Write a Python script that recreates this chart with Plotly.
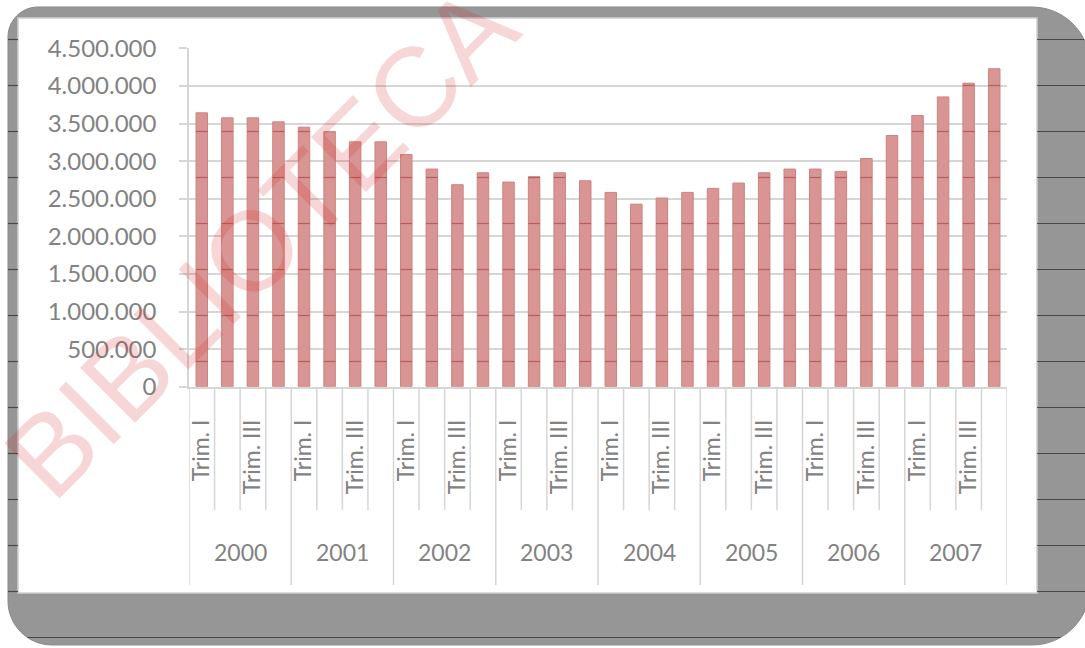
import math
import plotly.graph_objects as go

# ---- data -------------------------------------------------------------
years = ["2000", "2001", "2002", "2003", "2004", "2005", "2006", "2007"]
quarters = ["Trim. I", "Trim. II", "Trim. III", "Trim. IV"]
values = [
    3642000, 3575000, 3575000, 3522000,   # 2000
    3451000, 3393000, 3256000, 3256000,   # 2001
    3088000, 2894000, 2686000, 2845000,   # 2002
    2721000, 2792000, 2845000, 2739000,   # 2003
    2584000, 2427000, 2509000, 2584000,   # 2004
    2637000, 2708000, 2845000, 2894000,   # 2005
    2894000, 2863000, 3035000, 3340000,   # 2006
    3607000, 3853000, 4036000, 4228000,   # 2007
]
y_ticks = [0, 500000, 1000000, 1500000, 2000000, 2500000,
           3000000, 3500000, 4000000, 4500000]
watermark = "BIBLIOTECA"

# ---- geometry (pixels) ------------------------------------------------
W, H = 1085, 648
PL, PR = 189, 1007          # plot area left/right
PT, PB = 48.3, 386.7        # plot area top/bottom
Y_MAX = y_ticks[-1]
BAR_W = 0.45
GRID = "#d6d6d6"
TEXT = "#828282"
FONT = "Lato"


def px(x):
    return x / W


def py(y):
    return 1 - y / H


n = len(values)
idx = list(range(n))
n_q = len(quarters)
tick_idx = idx[::2]
tick_txt = [quarters[i % n_q] for i in tick_idx]

fig = go.Figure()
fig.add_trace(go.Bar(
    x=idx, y=values, width=BAR_W,
    marker=dict(color="#d99593", line=dict(color="#cd8380", width=1)),
    hoverinfo="y",
))

shapes = []


def rounded_path(x0, y0, x1, y1, r_tl, r_tr, r_br, r_bl):
    k = 0.5523

    def P(x, y):
        return f"{px(x):.5f},{py(y):.5f}"
    d = [f"M{P(x0 + r_tl, y0)}", f"L{P(x1 - r_tr, y0)}",
         f"C{P(x1 - r_tr + k * r_tr, y0)} {P(x1, y0 + r_tr - k * r_tr)} {P(x1, y0 + r_tr)}",
         f"L{P(x1, y1 - r_br)}",
         f"C{P(x1, y1 - r_br + k * r_br)} {P(x1 - r_br + k * r_br, y1)} {P(x1 - r_br, y1)}",
         f"L{P(x0 + r_bl, y1)}",
         f"C{P(x0 + r_bl - k * r_bl, y1)} {P(x0, y1 - r_bl + k * r_bl)} {P(x0, y1 - r_bl)}",
         f"L{P(x0, y0 + r_tl)}",
         f"C{P(x0, y0 + r_tl - k * r_tl)} {P(x0 + r_tl - k * r_tl, y0)} {P(x0 + r_tl, y0)}",
         "Z"]
    return " ".join(d)


# grey shadowed frame and white chart panel
FX0, FY0, FX1, FY1 = 8, 7, 1090, 645
R_TL, R_TR, R_BR, R_BL = 30, 58, 58, 44
shapes.append(dict(type="path", xref="paper", yref="paper", layer="below",
                   path=rounded_path(FX0, FY0, FX1, FY1, R_TL, R_TR, R_BR, R_BL),
                   fillcolor="#969696", line=dict(color="#8a8a8a", width=1)))
WX0, WY0, WX1, WY1 = 18, 18, 1037, 593
shapes.append(dict(type="rect", xref="paper", yref="paper", layer="below",
                   x0=px(WX0), x1=px(WX1), y0=py(WY1), y1=py(WY0),
                   fillcolor="white", line=dict(color="#d0d0d0", width=1.5)))


def frame_span(y):
    """horizontal extent of the grey frame on row y"""
    left, right = FX0, FX1
    if y < FY0 + R_TL:
        dy = FY0 + R_TL - y
        left = FX0 + R_TL - math.sqrt(max(R_TL ** 2 - dy ** 2, 0))
    if y > FY1 - R_BL:
        dy = y - (FY1 - R_BL)
        left = FX0 + R_BL - math.sqrt(max(R_BL ** 2 - dy ** 2, 0))
    if y < FY0 + R_TR:
        dy = FY0 + R_TR - y
        right = FX1 - R_TR + math.sqrt(max(R_TR ** 2 - dy ** 2, 0))
    if y > FY1 - R_BR:
        dy = y - (FY1 - R_BR)
        right = FX1 - R_BR + math.sqrt(max(R_BR ** 2 - dy ** 2, 0))
    return left, min(right, W)


# ruled lines of the page, visible on the grey frame and across the bars
RULE_DARK = "rgba(45,45,45,0.75)"
RULE_RED = "rgba(150,40,40,0.5)"
for k in range(14):
    y = 39.5 + 46 * k
    left, right = frame_span(y)
    if WY0 <= y <= WY1:
        segs = [(left, WX0), (WX1, right)]
    else:
        segs = [(left, right)]
    for a, b in segs:
        if b > a:
            shapes.append(dict(type="line", xref="paper", yref="paper", layer="above",
                               x0=px(a), x1=px(b), y0=py(y), y1=py(y),
                               line=dict(color=RULE_DARK, width=1.2)))
    if PT < y < PB:
        v_line = (PB - y) / (PB - PT) * Y_MAX
        for i, v in zip(idx, values):
            if v > v_line:
                shapes.append(dict(type="line", xref="x", yref="paper", layer="above",
                                   x0=i - BAR_W / 2, x1=i + BAR_W / 2, y0=py(y), y1=py(y),
                                   line=dict(color=RULE_RED, width=1.2)))

# category dividers below the axis
for b in range(n + 1):
    xb = b - 0.5
    year_edge = (b % n_q == 0)
    y_end = 585 if year_edge else 510
    shapes.append(dict(type="line", xref="x", yref="paper", layer="below",
                       x0=xb, x1=xb, y0=py(PB), y1=py(y_end),
                       line=dict(color=GRID, width=1.5)))

annotations = []
for j, yr in enumerate(years):
    annotations.append(dict(x=j * n_q + (n_q - 1) / 2, xref="x", y=py(552), yref="paper",
                            text=yr, showarrow=False, xanchor="center", yanchor="middle",
                            font=dict(family=FONT, size=23, color=TEXT)))

# diagonal watermark
WM_SIZE = 113
wm_len = 5.89 * WM_SIZE
sx, sy = 53, 505
ux, uy = math.cos(math.radians(45)), -math.sin(math.radians(45))
vx, vy = -math.sin(math.radians(45)), -math.cos(math.radians(45))
cx = sx + ux * wm_len / 2 + vx * 0.3465 * WM_SIZE
cy = sy + uy * wm_len / 2 + vy * 0.3465 * WM_SIZE
annotations.append(dict(x=px(cx), y=py(cy), xref="paper", yref="paper",
                        text=watermark, showarrow=False, textangle=-45,
                        xanchor="center", yanchor="middle",
                        font=dict(family="Liberation Sans", size=WM_SIZE,
                                  color="rgba(205,35,35,0.19)")))

fig.update_layout(
    width=W, height=H,
    margin=dict(l=0, r=0, t=0, b=0, autoexpand=False),
    paper_bgcolor="white", plot_bgcolor="rgba(0,0,0,0)",
    separators=",.",
    showlegend=False,
    shapes=shapes, annotations=annotations,
    xaxis=dict(domain=[px(PL), px(PR)], range=[-0.5, n - 0.5],
               tickvals=tick_idx, ticktext=tick_txt, tickangle=-90,
               ticks="", showgrid=False, zeroline=False, automargin=False,
               showline=True, linecolor=GRID, linewidth=1.5,
               ticklabelstandoff=22,
               tickfont=dict(family=FONT, size=23, color=TEXT)),
    yaxis=dict(domain=[py(PB), py(PT)], range=[0, Y_MAX],
               tickvals=y_ticks, tickformat=",d", automargin=False,
               ticks="outside", ticklen=8, tickcolor=GRID, tickwidth=1.5,
               showline=True, linecolor=GRID, linewidth=1.5,
               showgrid=True, gridcolor=GRID, gridwidth=1.5, zeroline=False,
               ticklabelstandoff=18,
               tickfont=dict(family=FONT, size=24, color=TEXT)),
    bargap=0.55,
)

fig.write_html("out.html")
